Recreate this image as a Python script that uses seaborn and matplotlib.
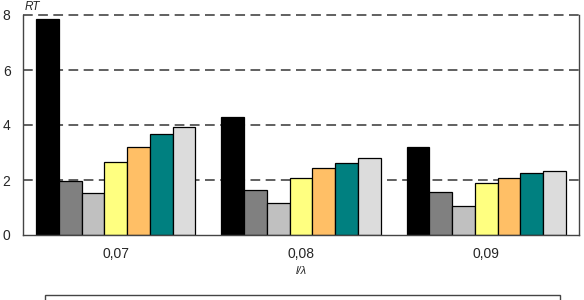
import matplotlib
matplotlib.use("Agg")
import matplotlib.pyplot as plt
import seaborn as sns
import pandas as pd
from matplotlib.patches import Rectangle

categories = ["0,07", "0,08", "0,09"]
series_names = ["s1", "s2", "s3", "s4", "s5", "s6", "s7"]
s1 = [7.85, 4.30, 3.20]
s2 = [1.97, 1.65, 1.58]
s3 = [1.51, 1.15, 1.05]
s4 = [2.64, 2.08, 1.88]
s5 = [3.19, 2.42, 2.08]
s6 = [3.66, 2.63, 2.24]
s7 = [3.94, 2.80, 2.33]
colors = ["#000000", "#808080", "#c0c0c0", "#ffff80", "#ffbf66", "#008080", "#dcdcdc"]

rows = []
for name, vals in zip(series_names, [s1, s2, s3, s4, s5, s6, s7]):
    for c, v in zip(categories, vals):
        rows.append({"cat": c, "series": name, "val": v})
df = pd.DataFrame(rows)

sns.set_style("white")
plt.rcParams["font.family"] = ["Liberation Sans", "DejaVu Sans"]

fig = plt.figure(figsize=(5.84, 3.0), dpi=100)
ax = fig.add_axes([23/584, 1-235/300, (579-23)/584, (235-15)/300])

sns.barplot(data=df, x="cat", y="val", hue="series", order=categories,
            hue_order=series_names, palette=colors, width=0.86,
            edgecolor="black", linewidth=0.9, ax=ax, legend=False, saturation=1)

ax.set_ylim(0, 8)
ax.set_yticks([0, 2, 4, 6, 8])
ax.set_yticks([1, 3, 5, 7], minor=True)
for y in [2, 4, 6, 8]:
    ax.axhline(y, color="#606060", linestyle=(0, (5, 2.8)), linewidth=1.4, zorder=0, clip_on=False)
ax.tick_params(axis="y", which="major", direction="in", length=5, width=0.9,
               labelsize=10, pad=9, color="#444444")
ax.tick_params(axis="y", which="minor", direction="in", length=3, width=0.9, color="#444444")
ax.tick_params(axis="x", length=0, labelsize=10, pad=9)
ax.set_xlabel("l/λ", fontstyle="italic", fontsize=8, labelpad=3)
ax.set_ylabel("")
ax.spines["top"].set_visible(False)
for side in ["left", "right", "bottom"]:
    ax.spines[side].set_color("#444444")
    ax.spines[side].set_linewidth(1.0)

fig.text(25/584, 0.996, "RT", fontstyle="italic", fontsize=8.5, ha="left", va="top")

fig.patches.append(Rectangle((45/584, -0.1), (560-45)/584, 0.1 + 1-295/300,
                             transform=fig.transFigure, fill=False,
                             edgecolor="#444444", linewidth=1.0))

fig.savefig("out.png", dpi=100)
